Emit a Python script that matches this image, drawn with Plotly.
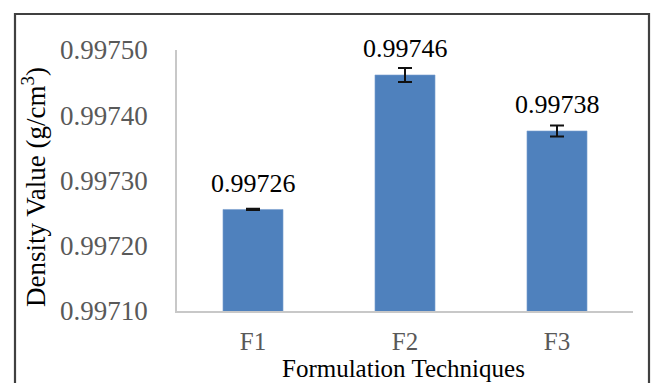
import plotly.graph_objects as go

categories = ["F1", "F2", "F3"]
density = [0.9972556, 0.9974617, 0.9973759]
errors = [0.000001, 0.0000107, 0.0000084]
value_labels = ["0.99726", "0.99746", "0.99738"]
y_ticks = [0.9971, 0.9972, 0.9973, 0.9974, 0.9975]
y_tick_labels = ["0.99710", "0.99720", "0.99730", "0.99740", "0.99750"]

W, H = 653, 383
L, R, T, B = 177, 20, 50, 72
pw, ph = W - L - R, H - T - B

serif = "Liberation Serif, Times New Roman, serif"

fig = go.Figure()
fig.add_trace(go.Bar(
    x=categories, y=density,
    width=0.395,
    marker=dict(color="#4f81bd", line=dict(color="#7ba0cf", width=0.6)),
    error_y=dict(type="data", array=errors, visible=True,
                 color="#111111", thickness=2, width=7),
    hoverinfo="skip",
))

for c, v, lab in zip(categories, density, value_labels):
    fig.add_annotation(x=c, y=v, text=lab, showarrow=False,
                       yanchor="middle", yshift=26,
                       font=dict(family=serif, size=26, color="#000000"))

# axis titles
fig.add_annotation(xref="paper", yref="paper",
                   x=(34 - L) / pw, y=(H - B - 187) / ph,
                   text="Density Value (g/cm<sup>3</sup>)", textangle=-90,
                   showarrow=False, xanchor="center", yanchor="middle",
                   font=dict(family=serif, size=27, color="#000000"))
fig.add_annotation(xref="paper", yref="paper",
                   x=(403 - L) / pw, y=(H - B - 368) / ph,
                   text="Formulation Techniques",
                   showarrow=False, xanchor="center", yanchor="middle",
                   font=dict(family=serif, size=25, color="#000000"))

# outer frame
fig.add_shape(type="rect", xref="paper", yref="paper",
              x0=(15 - L) / pw, x1=(649 - L) / pw,
              y0=(H - B - 420) / ph, y1=(H - B - 14) / ph,
              line=dict(color="#404040", width=2.2), fillcolor="rgba(0,0,0,0)",
              layer="above")

fig.update_layout(
    width=W, height=H,
    margin=dict(l=L, r=R, t=T, b=B),
    paper_bgcolor="white", plot_bgcolor="white",
    showlegend=False,
    xaxis=dict(showline=True, linecolor="#c8c8c8", linewidth=1.5,
               showgrid=False, ticks="", ticklabelstandoff=7,
               tickfont=dict(family=serif, size=25, color="#595959"),
               zeroline=False),
    yaxis=dict(range=[0.9971, 0.9975], showline=True, linecolor="#c8c8c8",
               linewidth=1.5, showgrid=False, zeroline=False, ticks="",
               tickvals=y_ticks, ticktext=y_tick_labels,
               ticklabelstandoff=22,
               tickfont=dict(family=serif, size=27, color="#595959")),
)

fig.write_html("out.html", config={"displayModeBar": False},
               post_script="document.body.style.margin='0';document.body.style.overflow='hidden';")
